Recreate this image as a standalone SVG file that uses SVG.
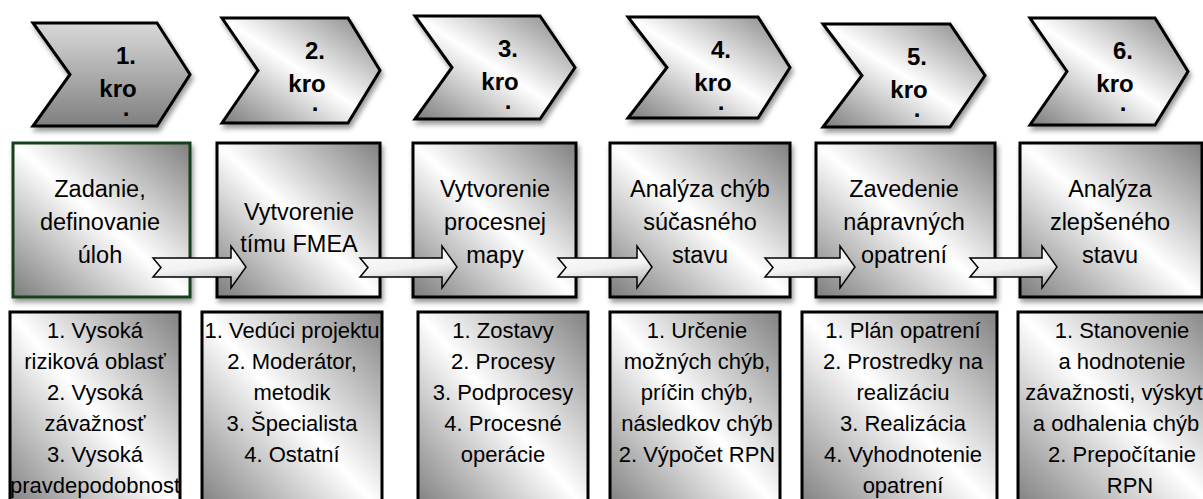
<svg xmlns="http://www.w3.org/2000/svg" width="1203" height="499" viewBox="0 0 1203 499">
<defs>
<linearGradient id="gDiag" x1="1" y1="0" x2="0" y2="1">
<stop offset="0" stop-color="#808080"/>
<stop offset="0.5" stop-color="#ffffff"/>
<stop offset="1" stop-color="#7c7c7c"/>
</linearGradient>
<linearGradient id="gVert" x1="0" y1="0" x2="0" y2="1">
<stop offset="0" stop-color="#d9d9d9"/>
<stop offset="1" stop-color="#7f7f7f"/>
</linearGradient>
<linearGradient id="gArrow" x1="0" y1="0" x2="0.3" y2="1">
<stop offset="0" stop-color="#ffffff"/>
<stop offset="0.6" stop-color="#f2f2f2"/>
<stop offset="1" stop-color="#bdbdbd"/>
</linearGradient>
<filter id="sh" x="-10%" y="-10%" width="130%" height="130%">
<feDropShadow dx="2" dy="4" stdDeviation="2.5" flood-color="#000" flood-opacity="0.4"/>
</filter>
<clipPath id="c1"><rect x="10" y="312" width="170" height="200"/></clipPath>
<clipPath id="c2"><rect x="202" y="312" width="180" height="200"/></clipPath>
<clipPath id="c3"><rect x="418" y="312" width="170" height="200"/></clipPath>
<clipPath id="c4"><rect x="610" y="312" width="170" height="200"/></clipPath>
<clipPath id="c5"><rect x="802" y="312" width="195" height="200"/></clipPath>
<clipPath id="c6"><rect x="1018" y="312" width="185" height="200"/></clipPath>
</defs>
<style>
.chev{stroke:#000;stroke-width:3;stroke-linejoin:miter;filter:url(#sh)}
.ct{font-family:"Liberation Sans",Arial,sans-serif;font-weight:bold;font-size:24px;fill:#000;text-anchor:middle}
.box{fill:url(#gDiag);stroke:#000;stroke-width:3;filter:url(#sh)}
.mt{font-family:"Liberation Sans",Arial,sans-serif;font-size:23.5px;fill:#000;text-anchor:middle}
.bt{font-family:"Liberation Sans",Arial,sans-serif;font-size:22px;fill:#000;text-anchor:middle}
.bfill{fill:url(#gDiag)}
.bstroke{fill:none;stroke:#000;stroke-width:3}
.arr{fill:url(#gArrow);stroke:#000;stroke-width:1.5;stroke-linejoin:miter}
</style>

<g id="step1">
<path class="chev" fill="url(#gVert)" d="M33,23 L157,23 L190,74.5 L157,126 L33,126 L70,74.5 Z"/>
<text class="ct" x="126" y="64">1.</text>
<text class="ct" x="118" y="97">kro</text>
<text class="ct" x="126" y="116">.</text>
</g>
<g id="step2">
<path class="chev" fill="url(#gDiag)" d="M222,18 L348,18 L380,70.5 L348,123 L222,123 L258,70.5 Z"/>
<text class="ct" x="315" y="59">2.</text>
<text class="ct" x="307" y="92">kro</text>
<text class="ct" x="315" y="111">.</text>
</g>
<g id="step3">
<path class="chev" fill="url(#gDiag)" d="M415,16 L540,16 L575,67.5 L540,119 L415,119 L452,67.5 Z"/>
<text class="ct" x="508" y="57">3.</text>
<text class="ct" x="500" y="90">kro</text>
<text class="ct" x="508" y="109">.</text>
</g>
<g id="step4">
<path class="chev" fill="url(#gDiag)" d="M628,17 L758,17 L790,67.5 L758,118 L628,118 L667,67.5 Z"/>
<text class="ct" x="721" y="58">4.</text>
<text class="ct" x="713" y="91">kro</text>
<text class="ct" x="721" y="110">.</text>
</g>
<g id="step5">
<path class="chev" fill="url(#gDiag)" d="M823,24 L950,24 L985,75.5 L950,127 L823,127 L862,75.5 Z"/>
<text class="ct" x="917" y="65">5.</text>
<text class="ct" x="909" y="98">kro</text>
<text class="ct" x="917" y="117">.</text>
</g>
<g id="step6">
<path class="chev" fill="url(#gDiag)" d="M1030,18 L1155,18 L1188,71.5 L1155,125 L1030,125 L1067,71.5 Z"/>
<text class="ct" x="1123" y="59">6.</text>
<text class="ct" x="1115" y="92">kro</text>
<text class="ct" x="1123" y="111">.</text>
</g>

<g id="phase1">
<rect class="box" x="13" y="143" width="177" height="154" style="stroke:#17401a"/>
<text class="mt" x="100" y="197">Zadanie,</text>
<text class="mt" x="100" y="230">definovanie</text>
<text class="mt" x="100" y="263">úloh</text>
</g>
<g id="phase2">
<rect class="box" x="217" y="143" width="163" height="154"/>
<text class="mt" x="299" y="220">Vytvorenie</text>
<text class="mt" x="299" y="252">tímu FMEA</text>
</g>
<g id="phase3">
<rect class="box" x="413" y="143" width="163" height="154"/>
<text class="mt" x="495" y="197">Vytvorenie</text>
<text class="mt" x="495" y="230">procesnej</text>
<text class="mt" x="495" y="263">mapy</text>
</g>
<g id="phase4">
<rect class="box" x="610" y="143" width="180" height="154"/>
<text class="mt" x="700" y="197">Analýza chýb</text>
<text class="mt" x="700" y="230">súčasného</text>
<text class="mt" x="700" y="263">stavu</text>
</g>
<g id="phase5">
<rect class="box" x="816" y="143" width="179" height="154"/>
<text class="mt" x="904" y="197">Zavedenie</text>
<text class="mt" x="904" y="230">nápravných</text>
<text class="mt" x="904" y="263">opatrení</text>
</g>
<g id="phase6">
<rect class="box" x="1020" y="143" width="182" height="154"/>
<text class="mt" x="1110" y="197">Analýza</text>
<text class="mt" x="1110" y="230">zlepšeného</text>
<text class="mt" x="1110" y="263">stavu</text>
</g>

<g id="connectors">
<path class="arr" d="M153,258 L231,258 L231,246 L246,267 L231,288 L231,277 L153,277 L161,267.5 Z"/>
<path class="arr" d="M360,258 L442,258 L442,246 L457,267 L442,288 L442,277 L360,277 L368,267.5 Z"/>
<path class="arr" d="M558,258 L637,258 L637,246 L652,267 L637,288 L637,277 L558,277 L566,267.5 Z"/>
<path class="arr" d="M765,258 L840,258 L840,246 L855,267 L840,288 L840,277 L765,277 L773,267.5 Z"/>
<path class="arr" d="M970,258 L1042,258 L1042,246 L1057,267 L1042,288 L1042,277 L970,277 L978,267.5 Z"/>
</g>

<g id="detail1">
<rect class="bfill" x="10" y="312" width="170" height="200"/>
<g clip-path="url(#c1)">
<text class="bt" x="95" y="338">1. Vysoká</text>
<text class="bt" x="95" y="369">riziková oblasť</text>
<text class="bt" x="95" y="400">2. Vysoká</text>
<text class="bt" x="95" y="431">závažnosť</text>
<text class="bt" x="95" y="462">3. Vysoká</text>
<text class="bt" x="95" y="493">pravdepodobnost</text>
</g>
<rect class="bstroke" x="10" y="312" width="170" height="200"/>
</g>
<g id="detail2">
<rect class="bfill" x="202" y="312" width="180" height="200"/>
<g clip-path="url(#c2)">
<text class="bt" x="292" y="338">1. Vedúci projektu</text>
<text class="bt" x="292" y="369">2. Moderátor,</text>
<text class="bt" x="292" y="400">metodik</text>
<text class="bt" x="292" y="431">3. Špecialista</text>
<text class="bt" x="292" y="462">4. Ostatní</text>
</g>
<rect class="bstroke" x="202" y="312" width="180" height="200"/>
</g>
<g id="detail3">
<rect class="bfill" x="418" y="312" width="170" height="200"/>
<g clip-path="url(#c3)">
<text class="bt" x="503" y="338">1. Zostavy</text>
<text class="bt" x="503" y="369">2. Procesy</text>
<text class="bt" x="503" y="400">3. Podprocesy</text>
<text class="bt" x="503" y="431">4. Procesné</text>
<text class="bt" x="503" y="462">operácie</text>
</g>
<rect class="bstroke" x="418" y="312" width="170" height="200"/>
</g>
<g id="detail4">
<rect class="bfill" x="610" y="312" width="170" height="200"/>
<g clip-path="url(#c4)">
<text class="bt" x="697" y="338">1. Určenie</text>
<text class="bt" x="697" y="369">možných chýb,</text>
<text class="bt" x="697" y="400">príčin chýb,</text>
<text class="bt" x="697" y="431">následkov chýb</text>
<text class="bt" x="697" y="462">2. Výpočet RPN</text>
</g>
<rect class="bstroke" x="610" y="312" width="170" height="200"/>
</g>
<g id="detail5">
<rect class="bfill" x="802" y="312" width="195" height="200"/>
<g clip-path="url(#c5)">
<text class="bt" x="903" y="338">1. Plán opatrení</text>
<text class="bt" x="903" y="369">2. Prostredky na</text>
<text class="bt" x="903" y="400">realizáciu</text>
<text class="bt" x="903" y="431">3. Realizácia</text>
<text class="bt" x="903" y="462">4. Vyhodnotenie</text>
<text class="bt" x="903" y="493">opatrení</text>
</g>
<rect class="bstroke" x="802" y="312" width="195" height="200"/>
</g>
<g id="detail6">
<rect class="bfill" x="1018" y="312" width="200" height="200"/>
<g clip-path="url(#c6)">
<text class="bt" x="1122" y="338">1. Stanovenie</text>
<text class="bt" x="1122" y="369">a hodnotenie</text>
<text class="bt" x="1114" y="400">závažnosti, výskyt</text>
<text class="bt" x="1116" y="431">a odhalenia chýb</text>
<text class="bt" x="1122" y="462">2. Prepočítanie</text>
<text class="bt" x="1130" y="493">RPN</text>
</g>
<rect class="bstroke" x="1018" y="312" width="200" height="200"/>
</g>
</svg>
